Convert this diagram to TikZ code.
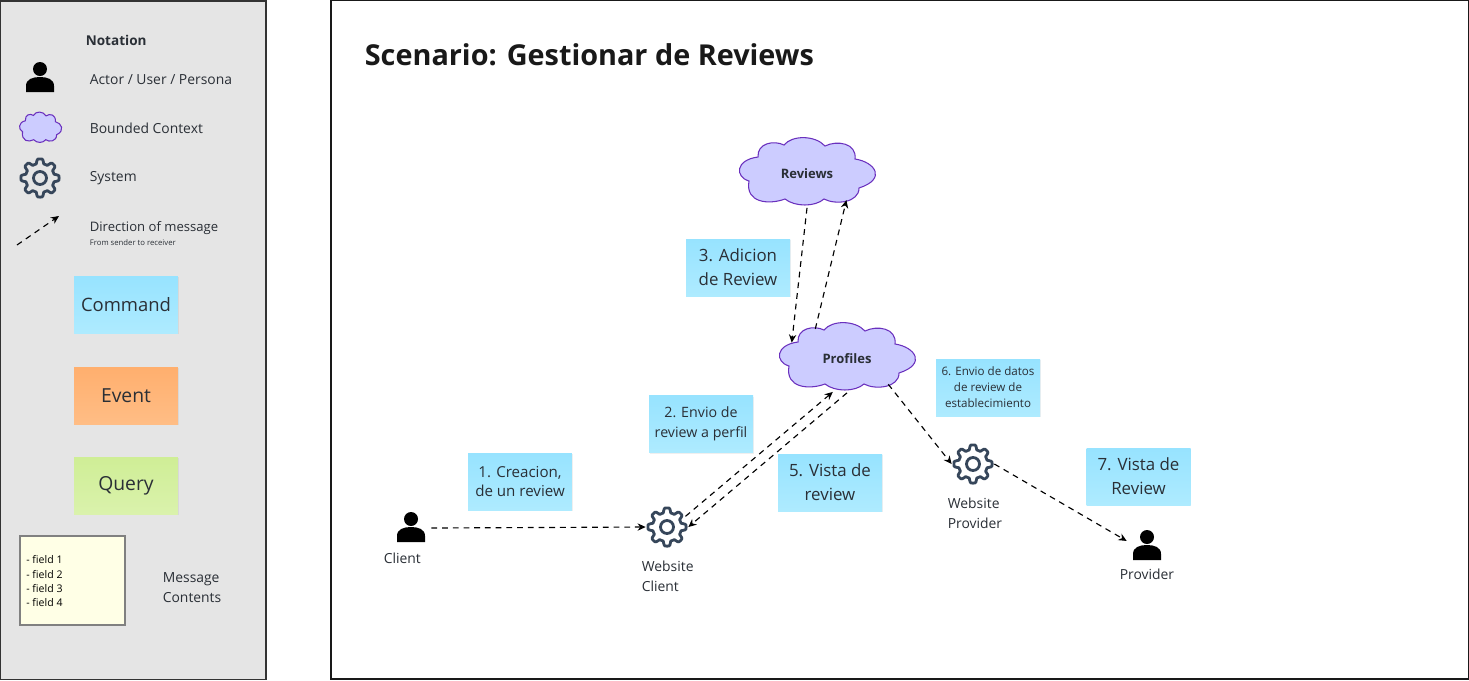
\documentclass[tikz,border=0pt]{standalone}
\usepackage{fontspec}
\setmainfont{Open Sans}
\usetikzlibrary{arrows.meta,shapes.geometric,shadows}

\definecolor{inkdark}{HTML}{2A2F36}
\definecolor{gearblue}{HTML}{36465A}
\definecolor{cloudfill}{HTML}{CCCCFF}
\definecolor{cloudline}{HTML}{6A30BE}
\definecolor{cmdtop}{HTML}{97E3FF}
\definecolor{cmdbot}{HTML}{AEEBFF}
\definecolor{evttop}{HTML}{FFAF6E}
\definecolor{evtbot}{HTML}{FFBD85}
\definecolor{qrytop}{HTML}{CFEE96}
\definecolor{qrybot}{HTML}{DAF2AC}
\definecolor{fieldfill}{HTML}{FFFFE6}

\tikzset{
  msg/.style={dash pattern=on 3.3pt off 2.8pt, line width=0.65pt, -{Stealth[length=4.6pt,width=4.2pt]}},
  sticky/.style={minimum width=2.08cm, minimum height=1.14cm, inner sep=0pt, align=center, text=inkdark,
    drop shadow={opacity=0.12, shadow xshift=0.4pt, shadow yshift=-0.7pt}},
  commandnote/.style={sticky, top color=cmdtop, bottom color=cmdbot},
  eventnote/.style={sticky, top color=evttop, bottom color=evtbot},
  querynote/.style={sticky, top color=qrytop, bottom color=qrybot},
  ctx/.style={ellipse, minimum width=2.48cm, minimum height=1.36cm, inner sep=0pt, text=inkdark,
    font=\fontsize{7.4}{9}\selectfont\bfseries},
  label/.style={anchor=west, inner sep=0pt, align=left, text=inkdark, font=\fontsize{7.9}{11.3}\selectfont},
  actorspot/.style={minimum width=0.8cm, minimum height=0.56cm, inner sep=0pt},
  gearspot/.style={circle, minimum size=0.84cm, inner sep=0pt},
  person/.pic={
    \fill[black] (0,-9) circle (7);
    \fill[black] (-14,14) -- (-14,8) .. controls (-14,1) and (-7,-1) .. (0,-1)
      .. controls (7,-1) and (14,1) .. (14,8) -- (14,14) -- cycle;
  },
  gear/.pic={
    \draw[gearblue, line width=1.6pt, line join=round]
      plot[domain=0:357, samples=120] (\x:{16.8+2.3*max(-1,min(1,2*cos(8*\x)))}) -- cycle;
    \draw[gearblue, line width=1.6pt] (0,0) circle (6.5);
  },
  blob/.pic={
    \draw[fill=cloudfill, draw=cloudline, line width=0.6pt] (-58,8)
      .. controls (-72,4) and (-72,-13) .. (-49,-16)
      .. controls (-50,-30) and (-33,-33) .. (-23,-28)
      .. controls (-15,-38) and (8,-38) .. (18,-27)
      .. controls (30,-33) and (50,-30) .. (48,-14)
      .. controls (68,-11) and (80,6) .. (52,15)
      .. controls (52,30) and (28,32) .. (17,26)
      .. controls (8,34) and (-12,34) .. (-22,26)
      .. controls (-38,32) and (-62,30) .. (-58,8) -- cycle;
  },
}

\begin{document}
\begin{tikzpicture}[x=0.02cm, y=-0.02cm]
  \useasboundingbox (0,0) rectangle (1469,680);

  % notation panel
  \draw[fill=black!10, draw=black!80, line width=1.1pt] (0.5,1) rectangle (266,679.5);
  \node[label, font=\fontsize{7.7}{10}\selectfont\bfseries] (notationtitle) at (85.5,40) {Notation};

  \node[actorspot] (legendactor) at (40,78) {};
  \pic at (legendactor) {person};
  \node[label] (legendactortext) at (89.5,80) {Actor / User / Persona};

  \pic[xscale=0.31, yscale=0.45] at (40.5,128) {blob};
  \node[label] (legendcloudtext) at (89.5,128) {Bounded Context};

  \node[gearspot] (legendgear) at (40,178) {};
  \pic at (legendgear) {gear};
  \node[label] (legendgeartext) at (89.5,178) {System};

  \coordinate (legendfrom) at (17,245);
  \coordinate (legendto) at (59,216);
  \draw[msg] (legendfrom) -- (legendto);
  \node[label, font=\fontsize{7.45}{11}\selectfont] (legendmsgtext) at (89.5,228.5) {Direction of message};
  \node[label, font=\fontsize{4.4}{6}\selectfont] (legendmsgsub) at (89.5,243) {From sender to receiver};

  \node[commandnote, font=\fontsize{10.5}{14}\selectfont] (legendcommand) at (126,304.5) {Command};
  \node[eventnote, font=\fontsize{11}{14}\selectfont] (legendevent) at (126,395.5) {Event};
  \node[querynote, font=\fontsize{11}{14}\selectfont] (legendquery) at (126,485.5) {Query};

  \node[draw=black!50, line width=1.1pt, fill=fieldfill, minimum width=2.1cm, minimum height=1.78cm] (legendfields) at (72.5,580.5) {};
  \node[label, anchor=north west, font=\fontsize{6}{8.15}\selectfont, text=black] (legendfieldstext) at (26,555.5) {- field 1\\- field 2\\- field 3\\- field 4};
  \node[label] (legendfieldslabel) at (162.5,588) {Message\\Contents};

  % scenario
  \draw[fill=white, draw=black!90, line width=0.8pt] (331,0.5) rectangle (1469,679);
  \node[label, font=\fontsize{16.4}{20}\selectfont\bfseries, text=black!90] (scenariotitle) at (364.5,55) {Scenario: Gestionar de Reviews};

  \pic at (807,173) {blob};
  \node[ctx] (reviews) at (807,173.5) {Reviews};
  \pic at (847,358) {blob};
  \node[ctx] (profiles) at (847,358.5) {Profiles};

  \node[actorspot] (client) at (411,528) {};
  \pic at (client) {person};
  \node[label] (clienttext) at (383.5,558) {Client};

  \node[gearspot] (webclient) at (667,527) {};
  \pic at (webclient) {gear};
  \node[label] (webclienttext) at (641.5,576) {Website\\Client};

  \node[gearspot] (webprovider) at (973,464) {};
  \pic at (webprovider) {gear};
  \node[label] (webprovidertext) at (947.5,513) {Website\\Provider};

  \node[actorspot] (provider) at (1147,546) {};
  \pic at (provider) {person};
  \node[label] (providertext) at (1119.5,574) {Provider};

  \node[commandnote, font=\fontsize{8.6}{11.3}\selectfont] (stepone) at (520,481.5) {1. Creacion,\\de un review};
  \node[commandnote, font=\fontsize{8.1}{11.3}\selectfont] (steptwo) at (701,424) {2. Envio de\\review a perfil};
  \node[commandnote, font=\fontsize{9.6}{13.6}\selectfont] (stepthree) at (738,267.5) {3. Adicion\\de Review};
  \node[commandnote, font=\fontsize{9.6}{13.6}\selectfont] (stepfive) at (830,482.5) {5. Vista de\\review};
  \node[commandnote, font=\fontsize{6.6}{9.1}\selectfont] (stepsix) at (988,387.5) {6. Envio de datos\\de review de\\establecimiento};
  \node[commandnote, font=\fontsize{9.6}{13.6}\selectfont] (stepseven) at (1138.5,476.5) {7. Vista de\\Review};

  \draw[msg] (client.east) -- (webclient.west);
  \draw[msg] (webclient.30) -- (profiles.-113);
  \draw[msg] (profiles.south) -- (webclient.0);
  \draw[msg] (reviews.south) -- (profiles.164);
  \draw[msg] (profiles.137) -- (reviews.-34);
  \draw[msg] (profiles.-32) -- (webprovider.west);
  \draw[msg] (webprovider.east) -- (provider.166);
\end{tikzpicture}
\end{document}
